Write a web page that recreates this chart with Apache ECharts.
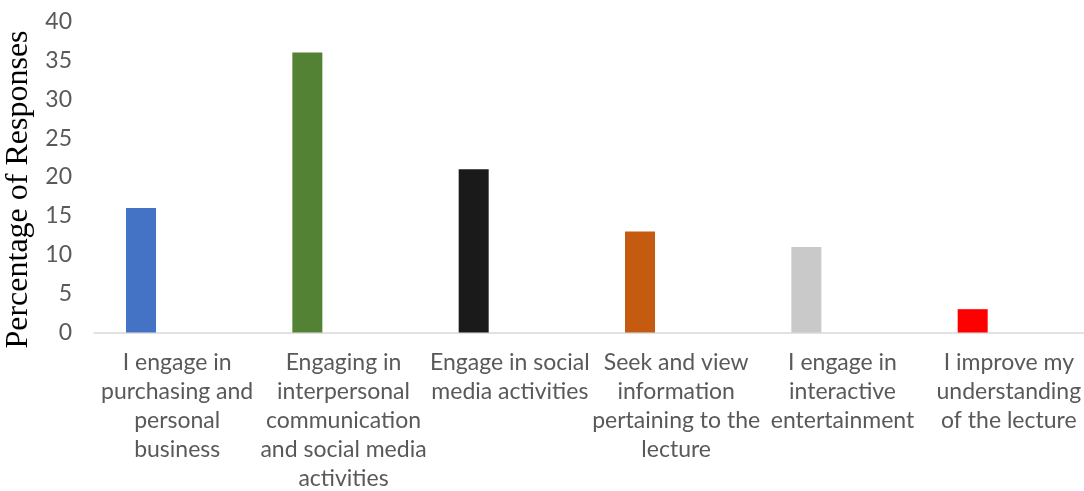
<!DOCTYPE html>
<html>
<head>
<meta charset="utf-8">
<script src="https://cdn.jsdelivr.net/npm/echarts@6/dist/echarts.min.js"></script>
<style>
  html, body { margin: 0; padding: 0; background: #ffffff; }
  #chart { width: 1084px; height: 491px; }
</style>
</head>
<body>
<div id="chart"></div>
<script>
// Reasons for phone use during lectures
const categories = [
  'I engage in\npurchasing and\npersonal\nbusiness',
  'Engaging in\ninterpersonal\ncommunication\nand social media\nactivities',
  'Engage in social\nmedia activities',
  'Seek and view\ninformation\npertaining to the\nlecture',
  'I engage in\ninteractive\nentertainment',
  'I improve my\nunderstanding\nof the lecture'
];
const responses = [16, 36, 21, 13, 11, 3];
const barColors = ['#4472C4', '#548235', '#1A1A1A', '#C55A11', '#C9C9C9', '#FF0000'];
const yTicks = { min: 0, max: 40, step: 5 };

const chart = echarts.init(document.getElementById('chart'), null, { renderer: 'canvas' });

const labelFont = 'Lato, "Open Sans", sans-serif';

chart.setOption({
  animation: false,
  backgroundColor: '#ffffff',
  grid: {
    left: 94, right: -8, top: 21.5, bottom: 158.5,
    containLabel: false,
    outerBoundsMode: 'none'
  },
  xAxis: {
    type: 'category',
    data: categories,
    axisLine: { show: true, lineStyle: { color: '#D9D9D9', width: 1.5 } },
    axisTick: { show: false },
    axisLabel: {
      interval: 0,
      margin: 16,
      color: '#595959',
      fontFamily: labelFont,
      fontSize: 23,
      lineHeight: 29,
      align: 'center'
    }
  },
  yAxis: {
    type: 'value',
    min: yTicks.min,
    max: yTicks.max,
    interval: yTicks.step,
    splitLine: { show: false },
    axisLine: { show: false },
    axisTick: { show: false },
    axisLabel: {
      margin: 22,
      color: '#595959',
      fontFamily: labelFont,
      fontSize: 23
    },
    name: 'Percentage of Responses',
    nameLocation: 'middle',
    nameGap: 49,
    nameTextStyle: {
      color: '#000000',
      fontFamily: '"Liberation Serif", "Times New Roman", serif',
      fontSize: 32,
      // shifts the rotated title a little toward the bottom of the axis
      padding: [0, 25, 0, 0]
    }
  },
  series: [
    {
      type: 'bar',
      barWidth: 30,
      barGap: '141%',
      data: responses.map((v, i) => ({ value: v, itemStyle: { color: barColors[i] } }))
    },
    {
      // empty companion series that keeps the bars in the left slot of each category
      type: 'bar',
      barWidth: 30,
      data: categories.map(() => '-')
    }
  ]
});
</script>
</body>
</html>
